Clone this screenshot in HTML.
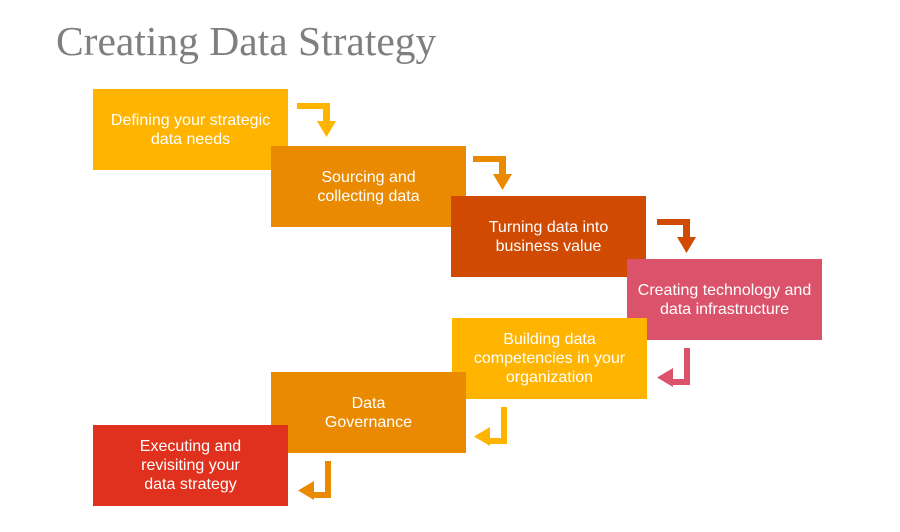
<!DOCTYPE html>
<html><head><style>
body{margin:0;width:900px;height:532px;background:#fff;overflow:hidden;position:relative;font-family:"Liberation Sans",sans-serif}
.t{position:absolute;left:56px;top:17px;font-family:"Liberation Serif",serif;font-size:41.5px;color:#7f7f7f}
.b{position:absolute;width:195px;height:81px;display:flex;align-items:center;justify-content:center;text-align:center;color:#fff;font-size:16px;line-height:19px}
svg{position:absolute;left:0;top:0}
</style></head><body>
<div class="t">Creating Data Strategy</div>
<div class="b" style="left:93px;top:89px;background:#FFB400">Defining your strategic<br>data needs</div>
<div class="b" style="left:271px;top:146px;background:#E98A00">Sourcing and<br>collecting data</div>
<div class="b" style="left:451px;top:196px;background:#D04A02">Turning data into<br>business value</div>
<div class="b" style="left:627px;top:259px;background:#DB536A">Creating technology and<br>data infrastructure</div>
<div class="b" style="left:452px;top:318px;background:#FFB400">Building data<br>competencies in your<br>organization</div>
<div class="b" style="left:271px;top:372px;background:#E98A00">Data<br>Governance</div>
<div class="b" style="left:93px;top:425px;background:#E0301E">Executing and<br>revisiting your<br>data strategy</div>
<svg width="900" height="532">
<defs>
<path id="r" d="M0 0H33V18H39L29.5 34L20 18H26V6H0Z"/>
<path id="l" d="M27 0H33V37H16V39L0 29.5L16 20V31H27Z"/>
</defs>
<use href="#r" x="297" y="103" fill="#FFB400"/>
<use href="#r" x="473" y="156" fill="#E98A00"/>
<use href="#r" x="657" y="219" fill="#D04A02"/>
<use href="#l" x="657" y="348" fill="#DB536A"/>
<use href="#l" x="474" y="407" fill="#FFB400"/>
<use href="#l" x="298" y="461" fill="#E98A00"/>
</svg>
</body></html>
